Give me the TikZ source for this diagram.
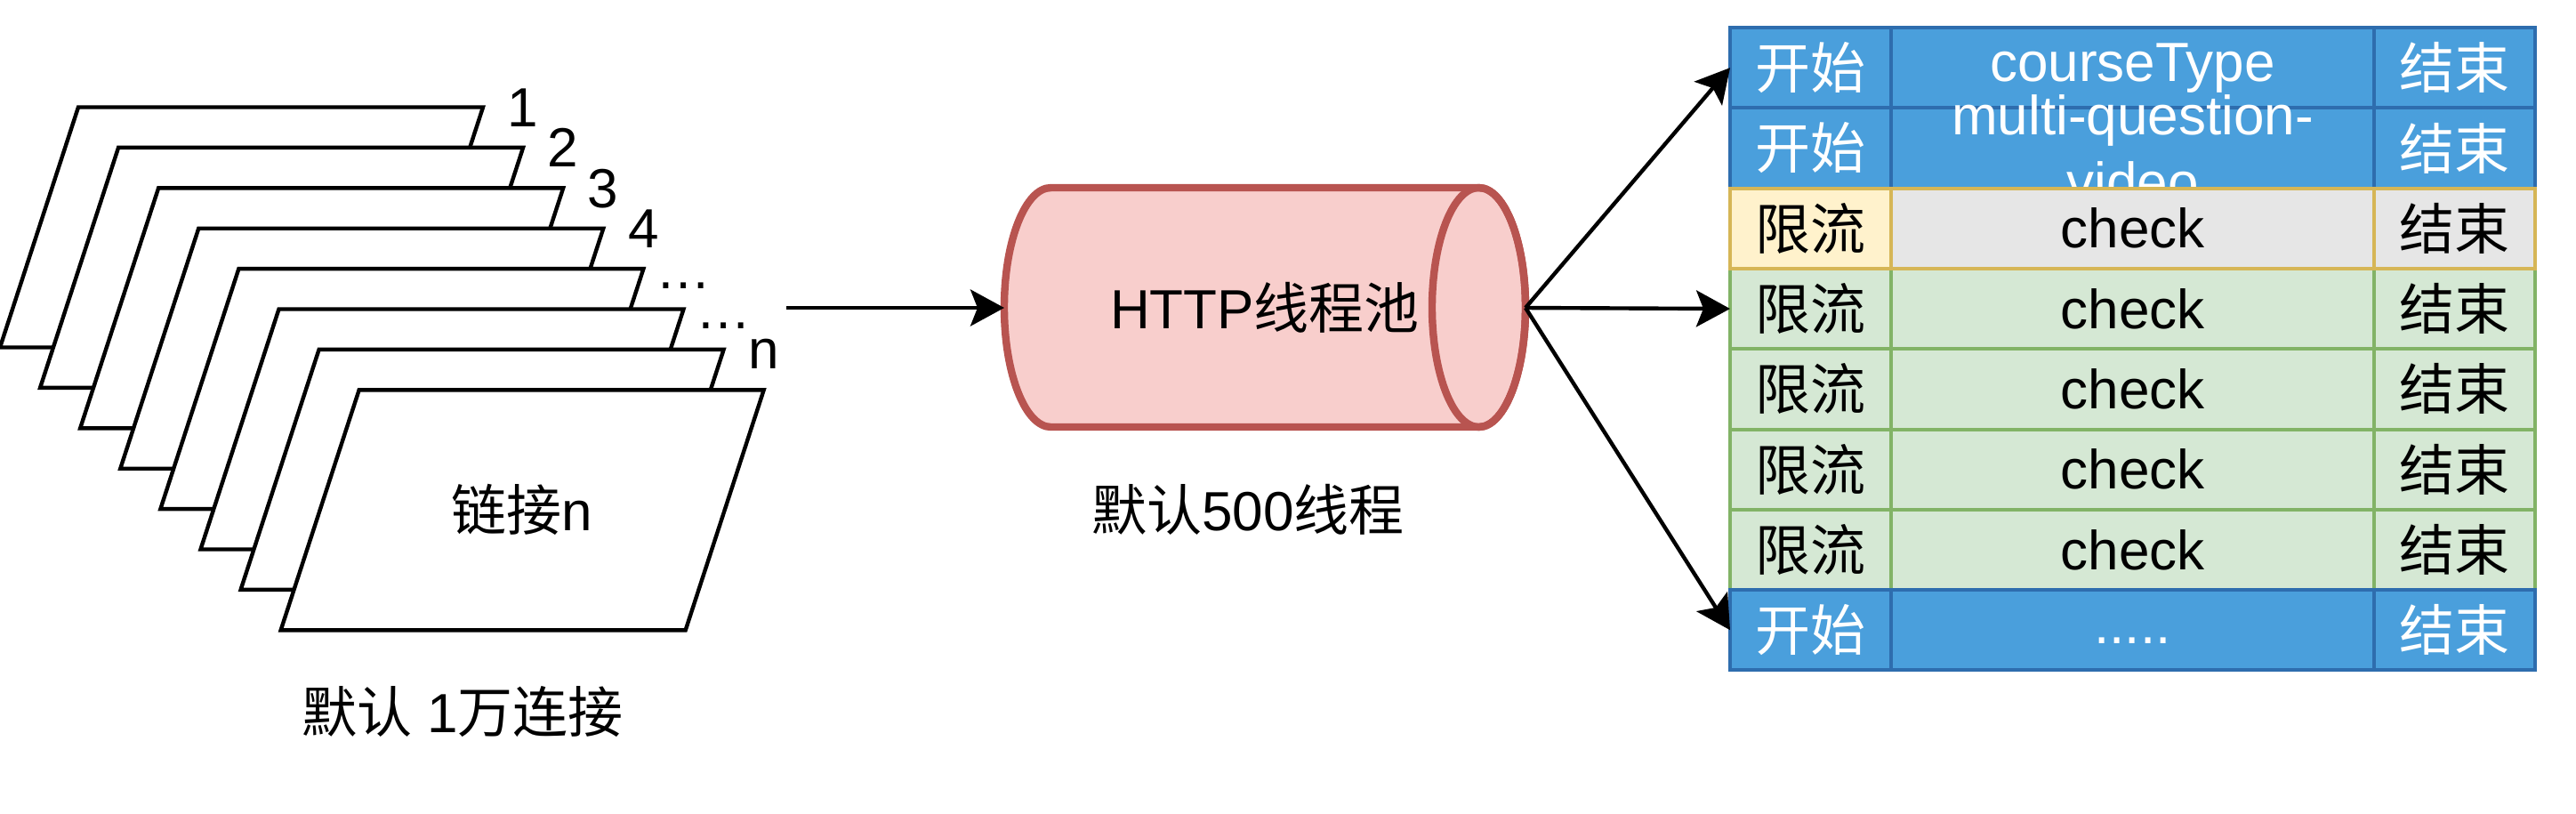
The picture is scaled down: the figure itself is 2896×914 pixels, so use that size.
\documentclass[tikz,border=0pt]{standalone}
\usepackage{fontspec}
\setmainfont{Liberation Sans}
\newfontfamily\cjk{Noto Sans CJK SC}
\usetikzlibrary{arrows.meta}
\definecolor{bfill}{HTML}{4A9FDC}
\definecolor{bline}{HTML}{2E6DAE}
\definecolor{yfill}{HTML}{FFF2CC}
\definecolor{yline}{HTML}{D6B656}
\definecolor{gfill}{HTML}{E6E6E6}
\definecolor{grfill}{HTML}{D5E8D4}
\definecolor{grline}{HTML}{82B366}
\definecolor{cylfill}{HTML}{F8CECC}
\definecolor{cylline}{HTML}{B85450}
\begin{document}
\begin{tikzpicture}[x=0.25pt,y=-0.25pt,
  font=\fontsize{15.5}{18.75}\selectfont,
  paral/.style={draw=black, fill=white, line width=1.1pt, line join=miter},
  lbl/.style={inner sep=0pt, anchor=base},
  cellbase/.style={draw, line width=1pt, inner sep=0pt, outer sep=0pt, minimum height=22.575pt, anchor=north west},
  wA/.style={minimum width=45.25pt},
  wB/.style={minimum width=135.75pt},
  bcell/.style={cellbase, fill=bfill, draw=bline, text=white},
  ycell/.style={cellbase, fill=yfill, draw=yline},
  gcell/.style={cellbase, fill=gfill, draw=yline},
  grcell/.style={cellbase, fill=grfill, draw=grline},
  arr/.style={draw=black, line width=1.1pt, -{Stealth[length=9.5pt, width=10.25pt, inset=2pt]}},
  cyl/.style={draw=cylline, fill=cylfill, line width=2.1pt}
]
\useasboundingbox (0,0) rectangle (2896,914);

% stack of connections
\foreach \k/\t in {0/1,1/2,2/3,3/4,4/…,5/…,6/n,7/} {
  \pgfmathsetmacro\tx{88+45.1*\k}
  \pgfmathsetmacro\ty{120.5+45.4*\k}
  \draw[paral] (\tx,\ty) -- ++(455,0) -- ++(-88,270) -- ++(-455,0) -- cycle;
  \node[lbl] (lab\k) at (\tx+500,\ty+22) {\t};
}
\node (conn) at (587,573) {{\cjk 链接}n};
\node (stacklbl) at (520,800) {{\cjk 默认} 1{\cjk 万连接}};

% thread pool cylinder
\path[cyl] (1181.5,211) -- (1662.5,211)
  arc[start angle=90, end angle=-90, x radius=13.125pt, y radius=33.625pt]
  -- (1181.5,480)
  arc[start angle=270, end angle=90, x radius=13.125pt, y radius=33.625pt]
  -- cycle;
\draw[cyl, fill=none] (1662.5,345.5) ellipse [x radius=13.125pt, y radius=33.625pt];
\node[inner sep=0pt, outer sep=0pt, minimum width=146.5pt, minimum height=67.25pt] (pool) at (1422,346) {HTTP{\cjk 线程池}};
\node (poollbl) at (1403,573) {{\cjk 默认}500{\cjk 线程}};

% table
\node[bcell, wA] (r1a) at (1945,31) {\cjk 开始};
\node[bcell, wB] (r1b) at (2126,31) {courseType};
\node[bcell, wA] (r1c) at (2669,31) {\cjk 结束};

\node[bcell, wA] (r2a) at (1945,121.3) {\cjk 开始};
\node[bcell, wB] (r2b) at (2126,121.3) {};
\node[bcell, wA] (r2c) at (2669,121.3) {\cjk 结束};
\node[align=center, inner sep=0pt, text=white] (r2t) at (r2b.center) {multi-question-\\video};

\node[grcell, wA] (r4a) at (1945,301.9) {\cjk 限流};
\node[grcell, wB] (r4b) at (2126,301.9) {check};
\node[grcell, wA] (r4c) at (2669,301.9) {\cjk 结束};

\node[grcell, wA] (r5a) at (1945,392.2) {\cjk 限流};
\node[grcell, wB] (r5b) at (2126,392.2) {check};
\node[grcell, wA] (r5c) at (2669,392.2) {\cjk 结束};

\node[grcell, wA] (r6a) at (1945,482.5) {\cjk 限流};
\node[grcell, wB] (r6b) at (2126,482.5) {check};
\node[grcell, wA] (r6c) at (2669,482.5) {\cjk 结束};

\node[grcell, wA] (r7a) at (1945,572.8) {\cjk 限流};
\node[grcell, wB] (r7b) at (2126,572.8) {check};
\node[grcell, wA] (r7c) at (2669,572.8) {\cjk 结束};

\node[bcell, wA] (r8a) at (1945,663.1) {\cjk 开始};
\node[bcell, wB] (r8b) at (2126,663.1) {\vphantom{Ag}.....};
\node[bcell, wA] (r8c) at (2669,663.1) {\cjk 结束};

\node[ycell, wA] (r3a) at (1945,211.6) {\cjk 限流};
\node[gcell, wB] (r3b) at (2126,211.6) {check};
\node[gcell, wA] (r3c) at (2669,211.6) {\cjk 结束};

% connectors
\coordinate (stackout) at (884,346);
\draw[arr] (stackout) -- (pool.west);
\draw[arr] (pool.east) -- (r1a.west);
\draw[arr] (pool.east) -- (r4a.west);
\draw[arr] (pool.east) -- (r8a.west);
\end{tikzpicture}
\end{document}
